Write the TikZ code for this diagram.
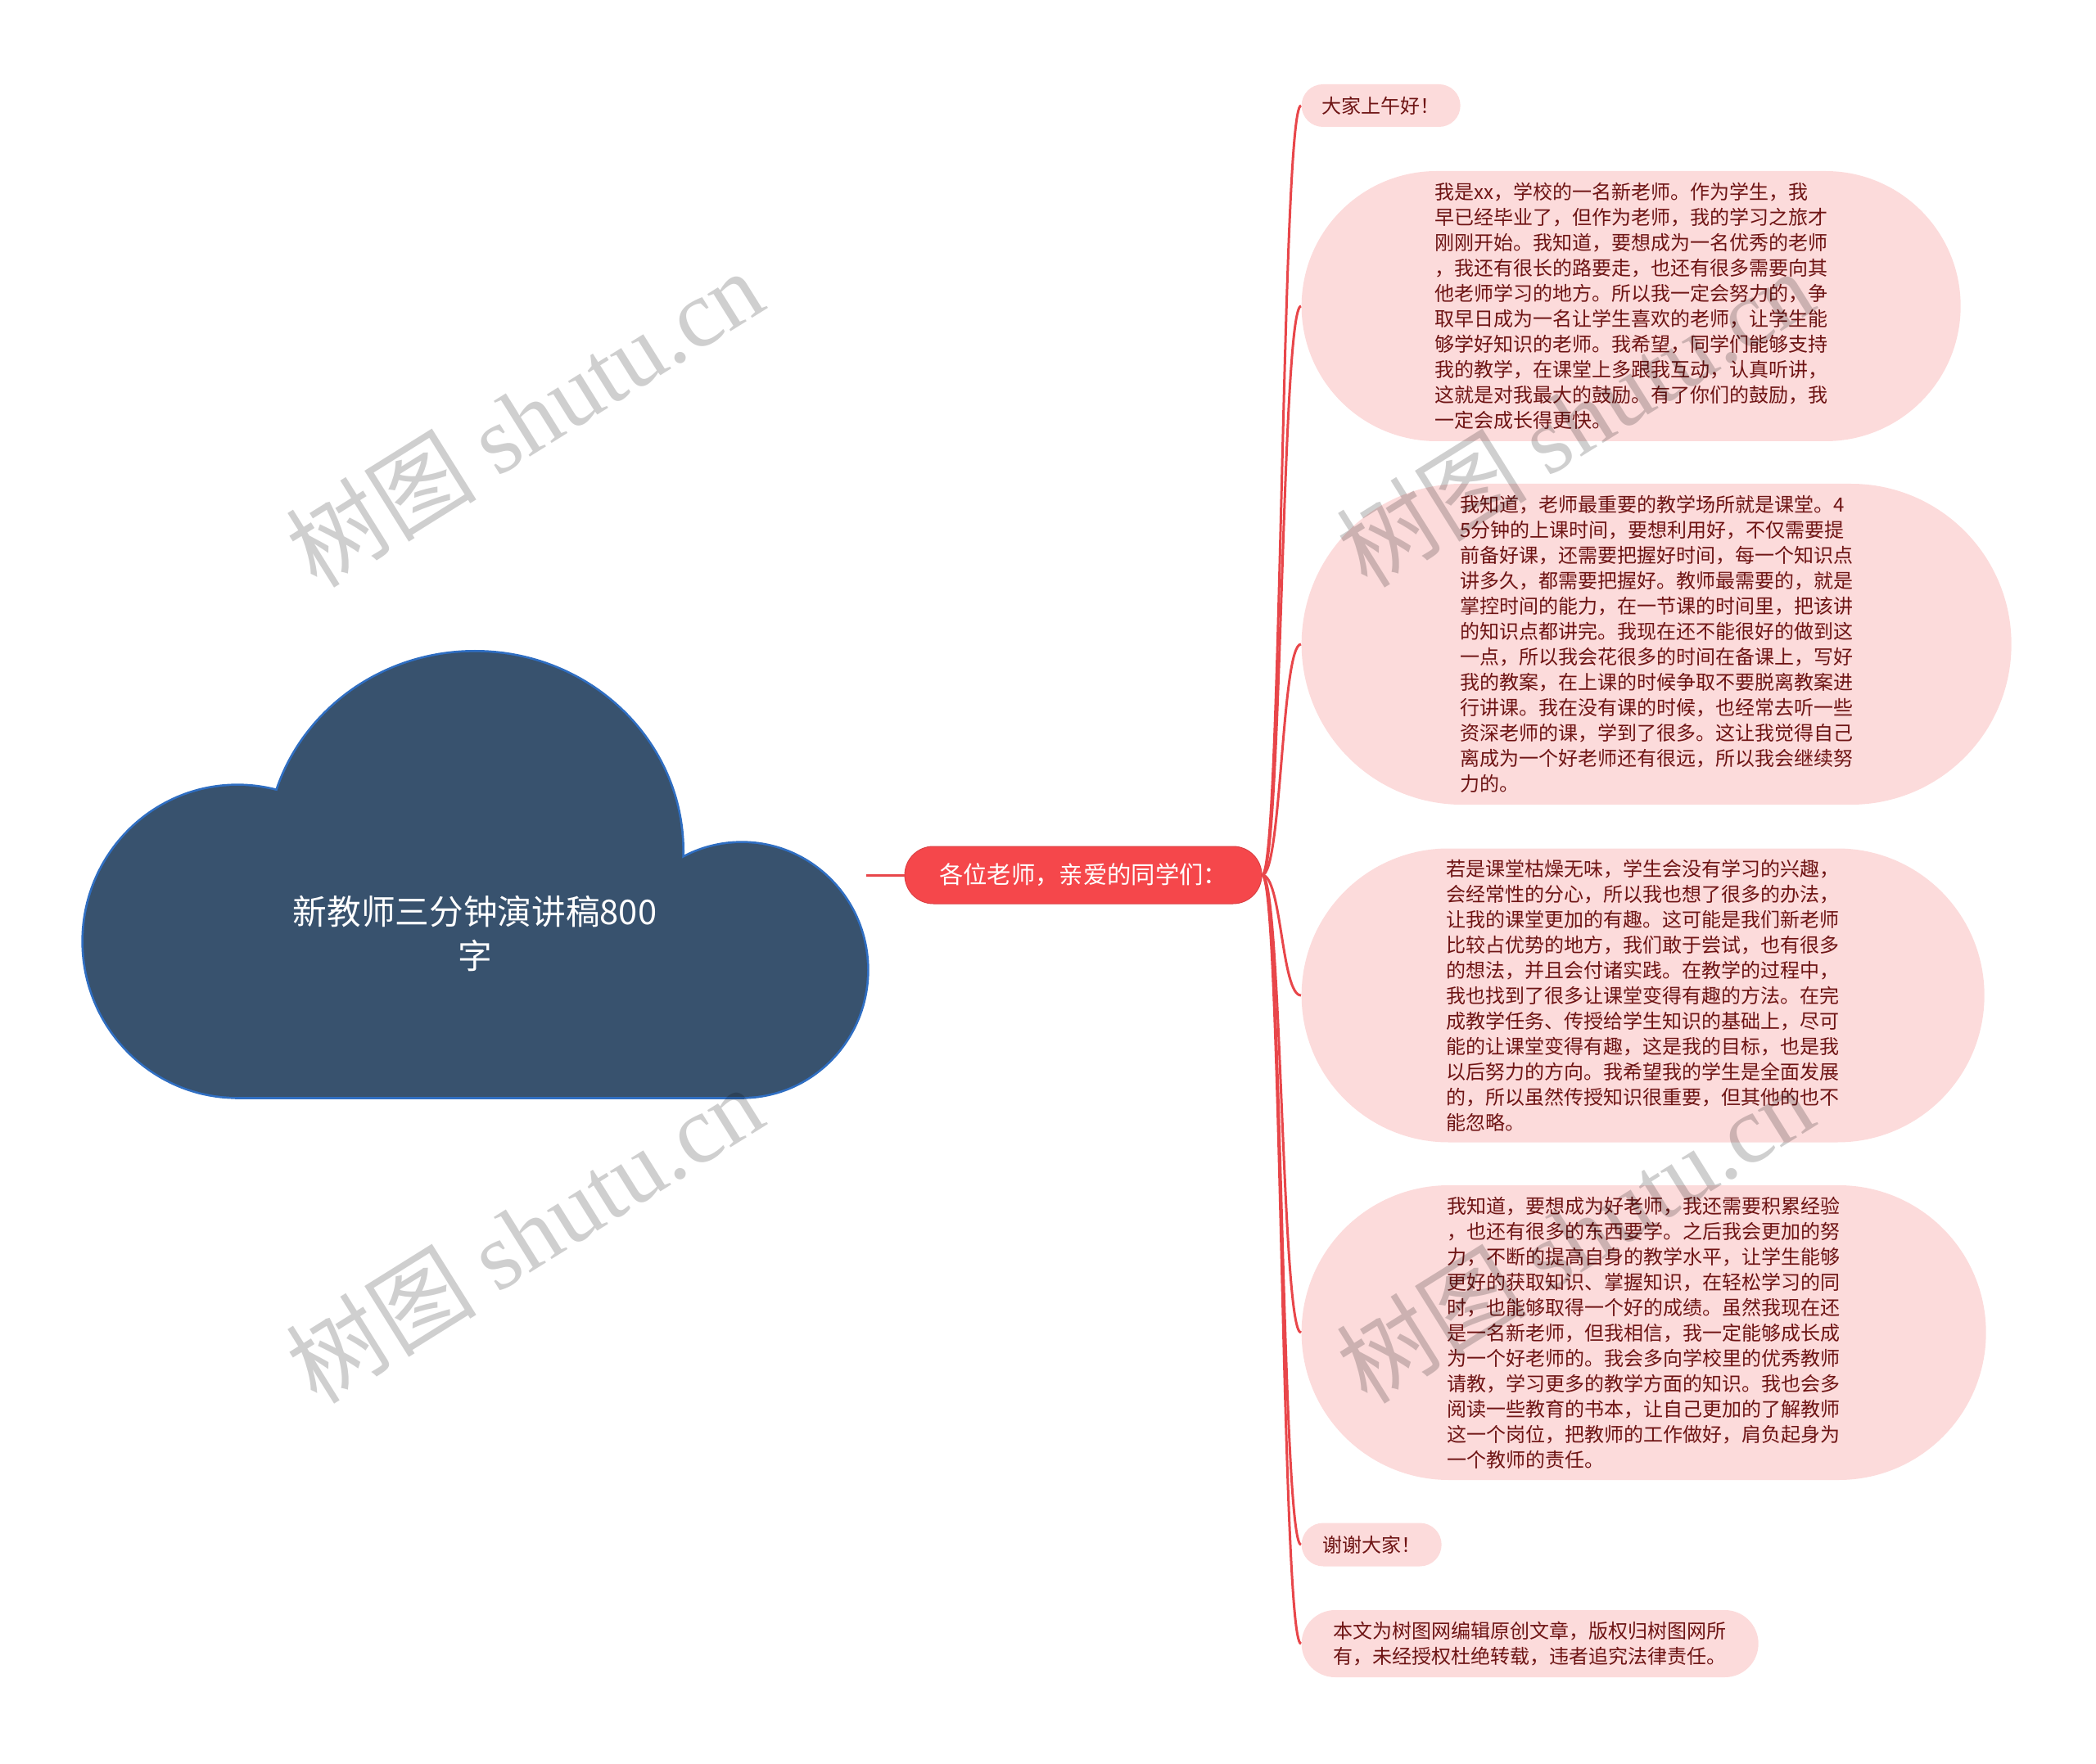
\documentclass[tikz,border=0pt]{standalone}
\usepackage{fontspec}
\setmainfont{Noto Sans CJK SC}
\newfontfamily\wmfont{Liberation Serif}
\definecolor{cloudfill}{HTML}{38526E}
\definecolor{cloudline}{HTML}{2F6EC2}
\definecolor{topicred}{HTML}{F5474B}
\definecolor{linkred}{HTML}{E8464A}
\definecolor{leafpink}{HTML}{FCDBDB}
\definecolor{leaftext}{HTML}{6E1414}

\begin{document}
\begin{tikzpicture}[x=1pt,y=1pt,
			leaf/.style 2 args={
				fill=leafpink,
				text=leaftext,
				anchor=west,
				inner sep=0pt,
				minimum width=#1,
				minimum height=#2,
				rounded corners=#2/2,
				align=left,
				font=\fontsize{7.2}{9.3}\selectfont
			},
			topic/.style={
				fill=topicred,
				draw=topicred!90!black,
				line width=0.3pt,
				text=white,
				minimum width=130.8pt,
				minimum height=21pt,
				rounded corners=10.5pt,
				font=\fontsize{8.8}{10}\selectfont
			},
			link/.style={draw=linkred,line width=0.9pt},
			watermark/.style={
				rotate=32,
				text=black,
				text opacity=0.19,
				font=\fontsize{35}{35}\selectfont
			}]
			
			\useasboundingbox (0,0) rectangle (768,646.2);
			
			\foreach \cx/\cy/\rx/\ry in {87/301.2/56.4/57,174/334.2/76/73,271.8/290.7/45.9/46.5}
				\draw[cloudline,line width=1.6pt] (\cx,\cy) ellipse [x radius=\rx,y radius=\ry];
			\draw[cloudline,line width=1.6pt] (87,244.2) rectangle (240,334.2);
			\draw[cloudline,line width=1.6pt] (87,244.2) rectangle (271.8,290.7);
			\foreach \cx/\cy/\rx/\ry in {87/301.2/56.4/57,174/334.2/76/73,271.8/290.7/45.9/46.5}
				\fill[cloudfill] (\cx,\cy) ellipse [x radius=\rx,y radius=\ry];
			\fill[cloudfill] (87,244.2) rectangle (240,334.2);
			\fill[cloudfill] (87,244.2) rectangle (271.8,290.7);
			
			\node (root) at (174,303.9)[text=white,align=center,font=\fontsize{12.5}{16.2}\selectfont]{新教师三分钟演讲稿800\\字};
			
			\coordinate (rootout) at (317.4,325.5);
			
			\node (topic) at (396.9,325.5)[topic]{各位老师，亲爱的同学们：};
			
			\node (hello) at (476.7,607.5)[leaf={58.2pt}{15.6pt}, align=center]{大家上午好！};
			
			\node (para1) at (476.7,534)[leaf={241.5pt}{99pt}]{我是xx，学校的一名新老师。作为学生，我\\早已经毕业了，但作为老师，我的学习之旅才\\刚刚开始。我知道，要想成为一名优秀的老师\\，我还有很长的路要走，也还有很多需要向其\\他老师学习的地方。所以我一定会努力的，争\\取早日成为一名让学生喜欢的老师，让学生能\\够学好知识的老师。我希望，同学们能够支持\\我的教学，在课堂上多跟我互动，认真听讲，\\这就是对我最大的鼓励。有了你们的鼓励，我\\一定会成长得更快。};
			
			\node (para2) at (476.7,410.1)[leaf={260.1pt}{117.6pt}]{我知道，老师最重要的教学场所就是课堂。4\\5分钟的上课时间，要想利用好，不仅需要提\\前备好课，还需要把握好时间，每一个知识点\\讲多久，都需要把握好。教师最需要的，就是\\掌控时间的能力，在一节课的时间里，把该讲\\的知识点都讲完。我现在还不能很好的做到这\\一点，所以我会花很多的时间在备课上，写好\\我的教案，在上课的时候争取不要脱离教案进\\行讲课。我在没有课的时候，也经常去听一些\\资深老师的课，学到了很多。这让我觉得自己\\离成为一个好老师还有很远，所以我会继续努\\力的。};
			
			\node (para3) at (476.7,281.4)[leaf={250.2pt}{107.7pt}]{若是课堂枯燥无味，学生会没有学习的兴趣，\\会经常性的分心，所以我也想了很多的办法，\\让我的课堂更加的有趣。这可能是我们新老师\\比较占优势的地方，我们敢于尝试，也有很多\\的想法，并且会付诸实践。在教学的过程中，\\我也找到了很多让课堂变得有趣的方法。在完\\成教学任务、传授给学生知识的基础上，尽可\\能的让课堂变得有趣，这是我的目标，也是我\\以后努力的方向。我希望我的学生是全面发展\\的，所以虽然传授知识很重要，但其他的也不\\能忽略。};
			
			\node (para4) at (476.7,157.8)[leaf={250.8pt}{108pt}]{我知道，要想成为好老师，我还需要积累经验\\，也还有很多的东西要学。之后我会更加的努\\力，不断的提高自身的教学水平，让学生能够\\更好的获取知识、掌握知识，在轻松学习的同\\时，也能够取得一个好的成绩。虽然我现在还\\是一名新老师，但我相信，我一定能够成长成\\为一个好老师的。我会多向学校里的优秀教师\\请教，学习更多的教学方面的知识。我也会多\\阅读一些教育的书本，让自己更加的了解教师\\这一个岗位，把教师的工作做好，肩负起身为\\一个教师的责任。};
			
			\node (thanks) at (476.7,80.1)[leaf={51.3pt}{15.9pt}, align=center]{谢谢大家！};
			
			\node (notice) at (476.7,43.8)[leaf={167.4pt}{24.6pt}]{本文为树图网编辑原创文章，版权归树图网所\\有，未经授权杜绝转载，违者追究法律责任。};
			
			\draw[link](rootout)--(topic);
			
			\foreach \leafname in {hello,para1,para2,para3,para4,thanks,notice}
				\draw[link](topic.east) .. controls +(7.2,0) and +(-7.2,0) .. (\leafname.west);
			
			\foreach \wx/\wy [count=\i] in {192/493,192/194,577/493,577/194}
				\node (wm\i) at (\wx,\wy)[watermark]{树图 {\wmfont shutu.cn}};
			
		\end{tikzpicture}
\end{document}
